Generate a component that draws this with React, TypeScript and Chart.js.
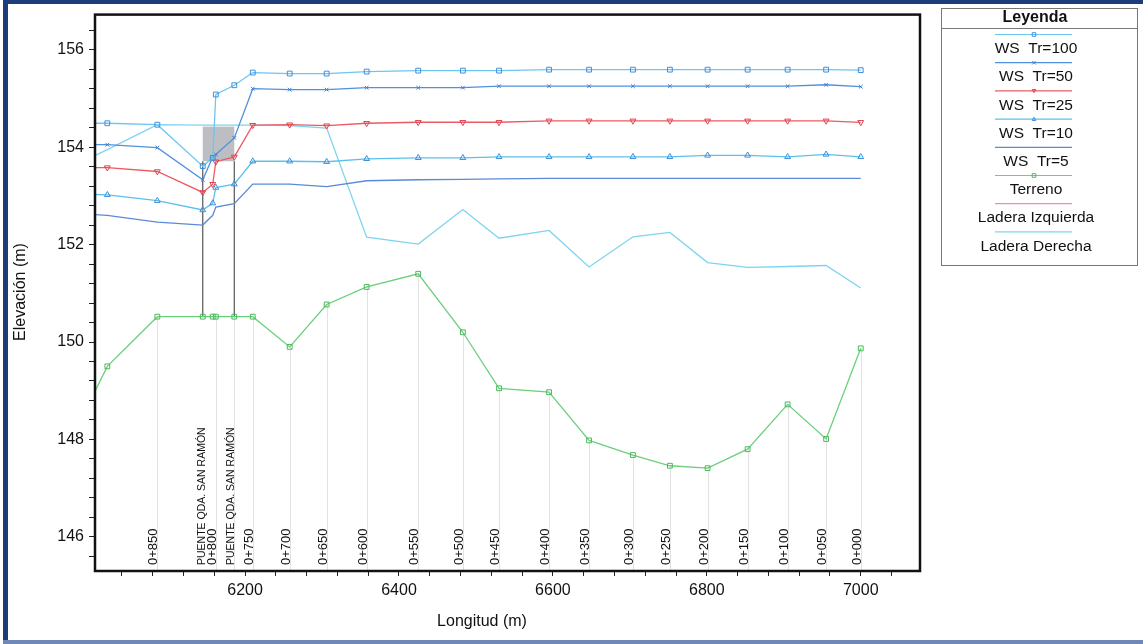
import React, { useEffect, useRef } from "react";
import { Chart, registerables } from "chart.js";

Chart.register(...registerables);

// ---------- data ----------
const stations = [6000, 6021, 6086, 6145, 6158, 6162, 6186, 6210, 6258, 6306, 6358, 6425, 6483, 6530, 6595, 6647, 6704, 6752, 6801, 6853, 6905, 6955, 7000];
const stationLabels = [null, null, "0+850", null, null, "PUENTE QDA. SAN RAMÓN|0+800", "PUENTE QDA. SAN RAMÓN", "0+750", "0+700", "0+650", "0+600", "0+550", "0+500", "0+450", "0+400", "0+350", "0+300", "0+250", "0+200", "0+150", "0+100", "0+050", "0+000"];

const wsTr100 = [154.49, 154.49, 154.46, 153.61, 153.78, 155.08, 155.27, 155.53, 155.51, 155.51, 155.55, 155.57, 155.57, 155.57, 155.59, 155.59, 155.59, 155.59, 155.59, 155.59, 155.59, 155.59, 155.58];
const wsTr50 = [154.05, 154.05, 153.99, 153.33, 153.80, 153.85, 154.19, 155.20, 155.18, 155.18, 155.22, 155.22, 155.22, 155.25, 155.25, 155.25, 155.25, 155.25, 155.25, 155.25, 155.25, 155.28, 155.24];
const wsTr25 = [153.58, 153.58, 153.50, 153.07, 153.24, 153.70, 153.80, 154.45, 154.46, 154.44, 154.49, 154.51, 154.51, 154.51, 154.54, 154.54, 154.54, 154.54, 154.54, 154.54, 154.54, 154.54, 154.51];
const wsTr10 = [153.03, 153.02, 152.90, 152.71, 152.85, 153.17, 153.24, 153.71, 153.71, 153.70, 153.76, 153.78, 153.78, 153.80, 153.80, 153.80, 153.80, 153.80, 153.83, 153.83, 153.80, 153.85, 153.80];
const wsTr5 = [152.62, 152.60, 152.46, 152.40, 152.60, 152.77, 152.84, 153.24, 153.24, 153.19, 153.31, 153.33, 153.34, 153.35, 153.36, 153.36, 153.36, 153.36, 153.36, 153.36, 153.36, 153.36, 153.36];
const terreno = [148.83, 149.5, 150.52, 150.52, 150.52, 150.52, 150.52, 150.52, 149.9, 150.77, 151.13, 151.4, 150.2, 149.05, 148.97, 147.98, 147.68, 147.46, 147.41, 147.80, 148.72, 148.01, 149.87];
const laderaIzquierda: (number | null)[] = [];
const laderaDerecha = [153.79, 153.95, 154.46, 154.45, 154.45, 154.45, 154.45, 154.45, 154.44, 154.39, 152.15, 152.01, 152.72, 152.13, 152.29, 151.54, 152.16, 152.25, 151.63, 151.53, 151.55, 151.57, 151.11];

const bridgeStations = [6145, 6186];
const bridgeChords = [153.71, 154.42];
const bridgeBase = 150.52;

const xTickLabels = [6200, 6400, 6600, 6800, 7000];
const yTickLabels = [146, 148, 150, 152, 154, 156];

const seriesNames = ["WS  Tr=100", "WS  Tr=50", "WS  Tr=25", "WS  Tr=10", "WS  Tr=5", "Terreno", "Ladera Izquierda", "Ladera Derecha"];
const seriesLine = ["#6cc6ee", "#5091de", "#ec5a64", "#5cc0ec", "#5a8ad8", "#6ccf7c", "#ee8ea0", "#7dd4f0"];
const seriesPoint = ["#3f8fdc", "#3f7fd0", "#e0404c", "#3f8fdc", "#5a8ad8", "#4cb85c", "#ee8ea0", "#7dd4f0"];
const seriesMarker = ["rect", "crossRot", "triDown", "triangle", "none", "rect", "none", "none"];

const FONT = "'Liberation Sans', Arial, Helvetica, sans-serif";

function drawMarker(ctx: CanvasRenderingContext2D, kind: string, x: number, y: number, r: number, color: string) {
  ctx.save();
  ctx.strokeStyle = color;
  ctx.lineWidth = 1;
  ctx.beginPath();
  if (kind === "rect") {
    ctx.rect(x - r, y - r, 2 * r, 2 * r);
  } else if (kind === "crossRot") {
    ctx.moveTo(x - r, y - r); ctx.lineTo(x + r, y + r);
    ctx.moveTo(x + r, y - r); ctx.lineTo(x - r, y + r);
  } else if (kind === "triangle") {
    ctx.moveTo(x, y - r); ctx.lineTo(x + r, y + r * 0.8); ctx.lineTo(x - r, y + r * 0.8); ctx.closePath();
  } else if (kind === "triDown") {
    ctx.moveTo(x, y + r); ctx.lineTo(x + r, y - r * 0.8); ctx.lineTo(x - r, y - r * 0.8); ctx.closePath();
  }
  ctx.stroke();
  ctx.restore();
}

export default function App() {
  const ref = useRef<HTMLCanvasElement>(null);

  useEffect(() => {
    document.body.style.margin = "0";
    const canvas = ref.current!;
    const pts = (vals: (number | null)[]) => vals.map((v, i) => ({ x: stations[i], y: v }));
    const allSeries = [wsTr100, wsTr50, wsTr25, wsTr10, wsTr5, terreno, laderaIzquierda, laderaDerecha];

    const pointStyleOf = (k: string) => (k === "triDown" ? "triangle" : k === "none" ? "circle" : k);
    const datasets = allSeries.map((vals, i) => ({
      label: seriesNames[i],
      data: pts(vals),
      borderColor: seriesLine[i],
      borderWidth: 1.3,
      pointStyle: pointStyleOf(seriesMarker[i]) as any,
      pointRotation: seriesMarker[i] === "triDown" ? 180 : 0,
      pointRadius: seriesMarker[i] === "none" ? 0 : seriesMarker[i] === "crossRot" ? 2.6 : 3.4,
      pointBorderColor: seriesPoint[i],
      pointBackgroundColor: "rgba(255,255,255,0)",
      pointBorderWidth: 1,
      tension: 0,
      fill: false,
      spanGaps: false,
    }));

    const xTicks: number[] = [];
    for (let v = 6040; v <= 7040; v += 40) xTicks.push(v);
    const yTicks: number[] = [];
    for (let i = 0; i <= 27; i++) yTicks.push(Math.round((145.6 + 0.4 * i) * 10) / 10);

    const backPlugin = {
      id: "back",
      beforeDatasetsDraw(chart: any) {
        const { ctx, chartArea: a, scales } = chart;
        const x = scales.x, y = scales.y;
        ctx.save();
        ctx.beginPath();
        ctx.rect(a.left, a.top, a.right - a.left, a.bottom - a.top);
        ctx.clip();
        ctx.strokeStyle = "#e2e2e2";
        ctx.lineWidth = 1;
        stations.forEach((s, i) => {
          if (!stationLabels[i]) return;
          const px = Math.round(x.getPixelForValue(s)) + 0.5;
          ctx.beginPath();
          ctx.moveTo(px, a.bottom);
          ctx.lineTo(px, y.getPixelForValue(terreno[i]));
          ctx.stroke();
        });
        const x0 = x.getPixelForValue(bridgeStations[0]);
        const x1 = x.getPixelForValue(bridgeStations[1]);
        const yLow = y.getPixelForValue(bridgeChords[0]);
        const yHigh = y.getPixelForValue(bridgeChords[1]);
        ctx.fillStyle = "rgba(178,178,186,0.85)";
        ctx.fillRect(x0, yHigh, x1 - x0, yLow - yHigh);
        ctx.strokeStyle = "#555";
        ctx.lineWidth = 1.2;
        bridgeStations.forEach((s) => {
          const px = x.getPixelForValue(s);
          ctx.beginPath();
          ctx.moveTo(px, y.getPixelForValue(bridgeBase));
          ctx.lineTo(px, yLow);
          ctx.stroke();
        });
        ctx.restore();
      },
    };

    const frontPlugin = {
      id: "front",
      afterDraw(chart: any) {
        const { ctx, chartArea: a, scales } = chart;
        const x = scales.x;
        ctx.save();
        ctx.fillStyle = "#111";
        stations.forEach((s, i) => {
          const lab = stationLabels[i];
          if (!lab) return;
          const px = x.getPixelForValue(s);
          const parts = lab.split("|");
          ctx.save();
          ctx.translate(px, a.bottom - 6);
          ctx.rotate(-Math.PI / 2);
          ctx.textAlign = "left";
          ctx.textBaseline = "alphabetic";
          if (parts.length === 2) {
            ctx.font = `10.5px ${FONT}`;
            ctx.fillText(parts[0], 0, -10.5);
            ctx.font = `13px ${FONT}`;
            ctx.fillText(parts[1], 0, 0);
          } else if (parts[0].startsWith("PUENTE")) {
            ctx.font = `10.5px ${FONT}`;
            ctx.fillText(parts[0], 0, 0);
          } else {
            ctx.font = `13px ${FONT}`;
            ctx.fillText(parts[0], 0, 0);
          }
          ctx.restore();
        });
        ctx.strokeStyle = "#111";
        ctx.lineWidth = 2.5;
        ctx.strokeRect(a.left, a.top, a.right - a.left, a.bottom - a.top);
        ctx.fillStyle = "#111";
        ctx.font = `16px ${FONT}`;
        ctx.textAlign = "center";
        ctx.textBaseline = "middle";
        ctx.fillText("Longitud (m)", 482, 622);
        ctx.save();
        ctx.translate(21, 292);
        ctx.rotate(-Math.PI / 2);
        ctx.fillText("Elevación (m)", 0, 0);
        ctx.restore();
        const lx = 941, ly = 8, lw = 196, lh = 257;
        ctx.fillStyle = "#fff";
        ctx.fillRect(lx, ly, lw, lh);
        ctx.strokeStyle = "#777";
        ctx.lineWidth = 1;
        ctx.strokeRect(lx + 0.5, ly + 0.5, lw, lh);
        ctx.beginPath();
        ctx.moveTo(lx, 28.5);
        ctx.lineTo(lx + lw, 28.5);
        ctx.stroke();
        ctx.fillStyle = "#111";
        ctx.font = `bold 16px ${FONT}`;
        ctx.fillText("Leyenda", 1035, 18);
        ctx.font = `15.5px ${FONT}`;
        seriesNames.forEach((name, i) => {
          const yy = 34.5 + 28.2 * i;
          ctx.strokeStyle = seriesLine[i];
          ctx.lineWidth = 1.2;
          ctx.beginPath();
          ctx.moveTo(995, yy);
          ctx.lineTo(1072, yy);
          ctx.stroke();
          if (seriesMarker[i] !== "none") drawMarker(ctx, seriesMarker[i], 1034, yy, 1.8, seriesPoint[i]);
          ctx.fillStyle = "#111";
          ctx.fillText(name, 1036, yy + 14.5);
        });
        ctx.fillStyle = "#1e3c7a";
        ctx.fillRect(3, 0, 1140, 4);
        ctx.fillRect(3, 0, 5, 644);
        ctx.fillStyle = "#6f88b8";
        ctx.fillRect(3, 640, 1140, 4);
        ctx.restore();
      },
    };

    const chart = new Chart(canvas, {
      type: "line",
      data: { datasets: datasets as any },
      options: {
        animation: false,
        responsive: false,
        layout: { padding: { left: 0, top: 10, right: 223, bottom: 0 } },
        plugins: { legend: { display: false }, tooltip: { enabled: false } },
        scales: {
          x: {
            type: "linear",
            min: 6005,
            max: 7077,
            afterBuildTicks: (s: any) => { s.ticks = xTicks.map((v) => ({ value: v })); },
            afterFit: (s: any) => { s.height = 73; },
            ticks: {
              autoSkip: false,
              maxRotation: 0,
              padding: 5,
              color: "#111",
              font: { family: FONT, size: 16 },
              callback: (v: any) => (xTickLabels.includes(Math.round(v)) ? String(Math.round(v)) : ""),
            },
            grid: { drawOnChartArea: false, drawTicks: true, tickLength: 5, color: "#222", tickColor: "#222" },
            border: { display: false },
          },
          y: {
            type: "linear",
            min: 145.3,
            max: 156.72,
            afterBuildTicks: (s: any) => { s.ticks = yTicks.map((v) => ({ value: v })); },
            afterFit: (s: any) => { s.width = 95; },
            ticks: {
              autoSkip: false,
              padding: 5,
              color: "#111",
              font: { family: FONT, size: 16 },
              callback: (v: any) => {
                const r = Math.round(v);
                return Math.abs(v - r) < 1e-6 && yTickLabels.includes(r) ? String(r) : "";
              },
            },
            grid: { drawOnChartArea: false, drawTicks: true, tickLength: 6, color: "#222", tickColor: "#222" },
            border: { display: false },
          },
        },
      },
      plugins: [backPlugin, frontPlugin],
    });
    return () => chart.destroy();
  }, []);

  return <canvas ref={ref} width={1143} height={644} style={{ display: "block" }} />;
}
